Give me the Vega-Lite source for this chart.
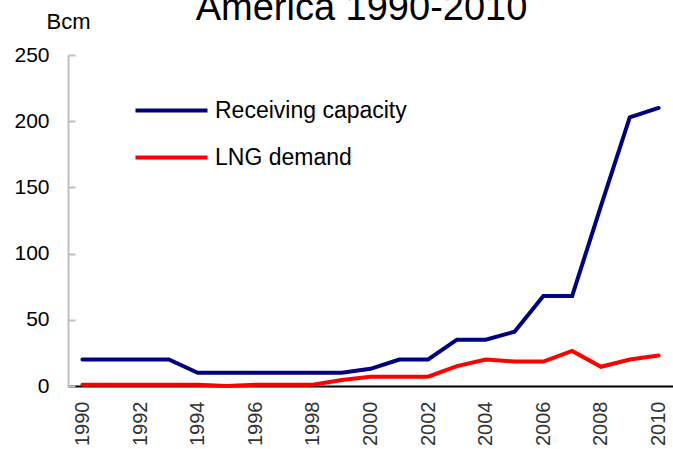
{
  "$schema": "https://vega.github.io/schema/vega-lite/v6.json",
  "width": 605,
  "height": 331,
  "autosize": {"type": "none"},
  "padding": {"left": 68, "top": 55, "right": 0, "bottom": 63},
  "background": "white",
  "config": {
    "font": "Liberation Sans",
    "view": {"stroke": null}
  },
  "title": {
    "text": "America 1990-2010",
    "fontSize": 38,
    "fontWeight": "normal",
    "color": "black",
    "anchor": "middle",
    "frame": "group",
    "baseline": "alphabetic",
    "offset": 0,
    "dy": 48,
    "dx": -9
  },
  "data": {
    "values": [
      {"year": 1990, "series": "Receiving capacity", "bcm": 20},
      {"year": 1991, "series": "Receiving capacity", "bcm": 20},
      {"year": 1992, "series": "Receiving capacity", "bcm": 20},
      {"year": 1993, "series": "Receiving capacity", "bcm": 20},
      {"year": 1994, "series": "Receiving capacity", "bcm": 10},
      {"year": 1995, "series": "Receiving capacity", "bcm": 10},
      {"year": 1996, "series": "Receiving capacity", "bcm": 10},
      {"year": 1997, "series": "Receiving capacity", "bcm": 10},
      {"year": 1998, "series": "Receiving capacity", "bcm": 10},
      {"year": 1999, "series": "Receiving capacity", "bcm": 10},
      {"year": 2000, "series": "Receiving capacity", "bcm": 13},
      {"year": 2001, "series": "Receiving capacity", "bcm": 20},
      {"year": 2002, "series": "Receiving capacity", "bcm": 20},
      {"year": 2003, "series": "Receiving capacity", "bcm": 35},
      {"year": 2004, "series": "Receiving capacity", "bcm": 35},
      {"year": 2005, "series": "Receiving capacity", "bcm": 41},
      {"year": 2006, "series": "Receiving capacity", "bcm": 68},
      {"year": 2007, "series": "Receiving capacity", "bcm": 68},
      {"year": 2008, "series": "Receiving capacity", "bcm": 136},
      {"year": 2009, "series": "Receiving capacity", "bcm": 203},
      {"year": 2010, "series": "Receiving capacity", "bcm": 210},
      {"year": 1990, "series": "LNG demand", "bcm": 1},
      {"year": 1991, "series": "LNG demand", "bcm": 1},
      {"year": 1992, "series": "LNG demand", "bcm": 1},
      {"year": 1993, "series": "LNG demand", "bcm": 1},
      {"year": 1994, "series": "LNG demand", "bcm": 1},
      {"year": 1995, "series": "LNG demand", "bcm": 0},
      {"year": 1996, "series": "LNG demand", "bcm": 1},
      {"year": 1997, "series": "LNG demand", "bcm": 1},
      {"year": 1998, "series": "LNG demand", "bcm": 1},
      {"year": 1999, "series": "LNG demand", "bcm": 4.5},
      {"year": 2000, "series": "LNG demand", "bcm": 7},
      {"year": 2001, "series": "LNG demand", "bcm": 7},
      {"year": 2002, "series": "LNG demand", "bcm": 7},
      {"year": 2003, "series": "LNG demand", "bcm": 15},
      {"year": 2004, "series": "LNG demand", "bcm": 20},
      {"year": 2005, "series": "LNG demand", "bcm": 18.5},
      {"year": 2006, "series": "LNG demand", "bcm": 18.5},
      {"year": 2007, "series": "LNG demand", "bcm": 26.5},
      {"year": 2008, "series": "LNG demand", "bcm": 14.5},
      {"year": 2009, "series": "LNG demand", "bcm": 20},
      {"year": 2010, "series": "LNG demand", "bcm": 23}
    ]
  },
  "mark": {"type": "line", "strokeWidth": 4, "strokeCap": "round", "strokeJoin": "miter", "clip": false},
  "encoding": {
    "x": {
      "field": "year",
      "type": "quantitative",
      "scale": {"domain": [1989.5, 2010.5], "nice": false, "zero": false},
      "axis": {
        "title": null,
        "values": [1990, 1992, 1994, 1996, 1998, 2000, 2002, 2004, 2006, 2008, 2010],
        "format": "d",
        "grid": false,
        "ticks": false,
        "domainColor": "black",
        "domainWidth": 2,
        "labelAngle": -90,
        "labelAlign": "right",
        "labelBaseline": "middle",
        "labelPadding": 15,
        "labelFontSize": 20,
        "labelColor": "#333333",
        "labelFlush": false,
        "labelOverlap": false
      }
    },
    "y": {
      "field": "bcm",
      "type": "quantitative",
      "scale": {"domain": [0, 250], "nice": false},
      "axis": {
        "title": "Bcm",
        "titleAngle": 0,
        "titleAlign": "center",
        "titleBaseline": "alphabetic",
        "titleFontSize": 22,
        "titleFontWeight": "normal",
        "titleColor": "black",
        "titleX": 0,
        "titleY": -27,
        "values": [0, 50, 100, 150, 200, 250],
        "grid": false,
        "domainColor": "#c0c0c0",
        "domainWidth": 2,
        "tickColor": "#c0c0c0",
        "tickWidth": 2,
        "tickSize": -7,
        "labelPadding": 26,
        "labelFontSize": 21,
        "labelColor": "black"
      }
    },
    "color": {
      "field": "series",
      "type": "nominal",
      "scale": {"domain": ["Receiving capacity", "LNG demand"], "range": ["#000080", "#ff0000"]},
      "legend": {
        "title": null,
        "orient": "none",
        "legendX": 92,
        "legendY": 44,
        "symbolType": "M-36,0H36",
        "symbolSize": 4,
        "symbolStrokeWidth": 4,
        "labelOffset": 32,
        "labelFontSize": 23,
        "labelLimit": 0,
        "labelColor": "black",
        "rowPadding": 23,
        "padding": 0
      }
    }
  }
}
